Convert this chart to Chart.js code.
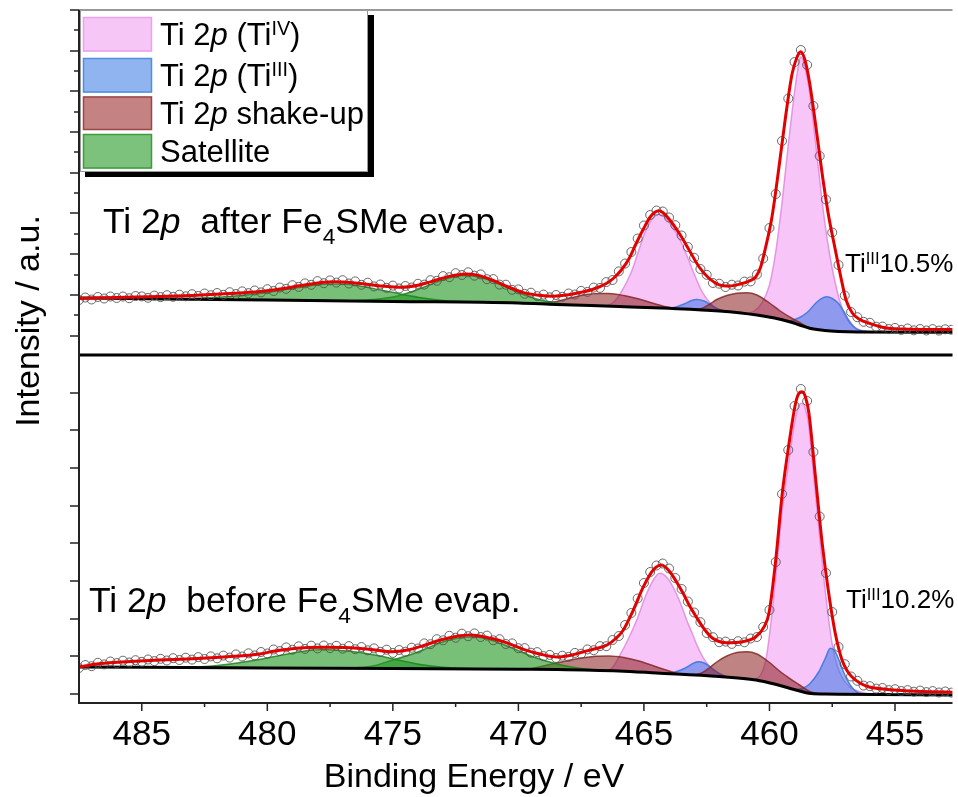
<!DOCTYPE html>
<html>
<head>
<meta charset="utf-8">
<title>Ti 2p XPS</title>
<script src="https://cdn.jsdelivr.net/npm/chart.js@4.4.1/dist/chart.umd.min.js"></script>
<style>
  html, body { margin: 0; padding: 0; background: #fff; overflow: hidden; }
  #wrap { position: relative; width: 958px; height: 797px; }
</style>
</head>
<body>
<div id="wrap"><canvas id="xps" width="958" height="797"></canvas></div>
<script>
// ---- axis ticks ----
const xMajorTicks = [485, 480, 475, 470, 465, 460, 455];
const xMinorTicks = [482.5, 477.5, 472.5, 467.5, 462.5, 457.5];
const yMajorAfter = [19, 60, 101, 142, 182, 223, 264, 304, 345];
const yMinorAfter = [40, 80, 121, 162, 203, 243, 284, 325];
const yMajorBefore = [9, 47, 84, 122, 160, 197, 235, 273, 310];

// ---- measured spectra (binding energy grid: 487.5 eV down, 0.25 eV step) ----
const rawStart = 487.5, rawStep = 0.25;

const rawAfter = [
  55, 57.5, 55.5, 58, 56.5, 58.5, 57, 58.5, 56.8, 59,
  58.6, 57.2, 59.4, 57.9, 59.8, 58.2, 60.3, 58.7, 60.8, 59.1,
  61.5, 59.8, 62, 60.2, 62.8, 61, 63.6, 61.9, 64.5, 62.6,
  65.8, 64, 67.5, 66.2, 69.8, 68.1, 71.6, 70.2, 73.9, 71.8,
  74.6, 72.4, 74.8, 71.5, 73.6, 70.2, 72.3, 68.6, 70.5, 67.2,
  69.4, 66.5, 69, 67.5, 71.2, 70.4, 74.8, 74.2, 78.9, 77.8,
  81.8, 80, 82.7, 79.3, 80.6, 75.8, 75.9, 70.4, 70.3, 65.2,
  65.6, 61.2, 62.3, 58.9, 60.4, 57.7, 60, 58.2, 61.5, 60.5,
  64.1, 63.1, 67.4, 67.1, 72.9, 75, 83.6, 91.5, 103, 116.5,
  129.5, 140, 144.5, 143.5, 137.5, 129.8, 119.5, 108, 97.2, 86,
  80.2, 72, 71.3, 68, 70.3, 69.5, 73.4, 73.6, 80.5, 96.5,
  127, 161, 214, 256.5, 293, 305, 290, 249, 199, 155.5,
  122.5, 90, 59.5, 43, 37.8, 33.2, 32.2, 28.3, 28.4, 26,
  27.1, 25.1, 26.5, 24.7, 26, 24.5, 25.9, 24.4, 25.7, 25.2
];

const rawBefore = [
  35, 38, 36.8, 40.2, 38.6, 41.5, 39.9, 42.3, 40.5, 42.8,
  41.2, 43.5, 41.9, 44.2, 42.5, 44.8, 43, 45.3, 43.4, 45.9,
  44, 46.6, 44.7, 47.4, 45.4, 48.6, 46.5, 49.7, 47.6, 51,
  49.5, 53.5, 51.9, 55.6, 53.3, 56.7, 54.1, 57.3, 54.6, 57.5,
  54.8, 57.2, 54.3, 56.9, 53.8, 56, 52.7, 54.6, 51.2, 53.3,
  50.1, 53, 51.3, 55.3, 54.5, 59.6, 58.8, 63.8, 62.7, 67.2,
  65.3, 69.3, 66.8, 69.6, 66, 67.4, 62.7, 63.8, 59, 59.6,
  54.8, 54.9, 50.3, 50.9, 46.9, 48.1, 45, 47.3, 46.1, 50.1,
  49.3, 53.6, 52.8, 56.9, 56.8, 63, 67, 78, 90, 104.5,
  120, 131, 137.5, 139.5, 134.5, 125, 114, 101.5, 90.5, 80.8,
  70, 65.8, 60.8, 61.4, 59.1, 61.8, 60.7, 64.5, 66, 76,
  93, 141, 209, 253, 297, 314, 302, 251, 186.5, 130,
  91, 56, 38.8, 26.5, 22.2, 17.4, 16.8, 14.4, 15, 12.9,
  13.8, 12, 12.9, 11.3, 12.4, 10.9, 11.9, 10.5, 11.5, 10.4
];

// ---- fitted envelopes [eV, intensity] ----
const fitAfter = [
  [487.5, 56.5], [486, 57.6], [484.3, 58.4], [483, 59.5], [481.5, 61.4], [480.3, 63.4],
  [479.5, 66], [478.4, 70.5], [477.4, 73.2], [476.4, 71.8], [475.4, 68.9], [474.65, 67.7],
  [474, 69.7], [473.5, 73.1], [472.8, 78.4], [472.1, 81], [471.6, 79.6], [471.1, 75.5],
  [470.4, 68], [469.8, 62.4], [469.2, 59.8], [468.6, 58.8], [468, 60.2], [467.5, 62.7],
  [467, 66], [466.5, 71.5], [466.2, 77], [465.9, 85], [465.6, 96], [465.3, 112],
  [465, 127], [464.75, 138], [464.55, 143], [464.4, 144.3], [464.25, 142.5], [464, 136],
  [463.6, 122], [463.2, 105], [462.8, 88], [462.4, 76.5], [462, 70.2], [461.6, 69],
  [461.2, 70.7], [460.8, 74], [460.55, 78], [460.35, 88], [460.15, 108], [459.9, 138],
  [459.62, 188], [459.36, 238], [459.1, 281], [458.9, 298], [458.76, 303.3], [458.6, 296],
  [458.4, 272], [458.15, 228], [457.9, 181], [457.65, 140], [457.4, 108], [457.15, 77],
  [456.95, 55], [456.7, 42], [456.4, 35.5], [456, 31.5], [455.5, 27.7], [454.8, 25.9],
  [453.8, 25.6], [452.7, 25.5]
];

const fitBefore = [
  [487.5, 36], [487.2, 37.2], [486.9, 38.7], [486.3, 40.3], [485.6, 41.3], [484.3, 43],
  [483, 44.3], [481.6, 46.3], [480.3, 49], [479.7, 52], [479, 54.3], [478.3, 55.4],
  [477.7, 55.7], [477, 55.5], [476.4, 54.7], [475.7, 53], [475.05, 51.3], [474.4, 53],
  [473.7, 58], [473.1, 63], [472.5, 66.5], [471.9, 68], [471.1, 64.7], [470.4, 59.7],
  [469.8, 53.7], [469.1, 48.7], [468.45, 46], [467.9, 47.8], [467.4, 51.3], [466.9, 54.5],
  [466.47, 58], [466.1, 65], [465.82, 73], [465.42, 93], [465.02, 116.3], [464.63, 133],
  [464.3, 138], [463.97, 131.3], [463.7, 121], [463.44, 109.7], [463.2, 98], [462.92, 86.3],
  [462.6, 74], [462.26, 64.7], [461.73, 60.3], [461.07, 61.3], [460.54, 66.3], [460.21, 76.3],
  [460.02, 89.7], [459.75, 143], [459.49, 209.7], [459.22, 259.7], [458.96, 299.7], [458.83, 309.7],
  [458.7, 311.3], [458.57, 306.3], [458.43, 290], [458.17, 226.3], [457.9, 159.7], [457.64, 109.7],
  [457.38, 69.7], [457.11, 43], [456.9, 32], [456.72, 26.3], [456.4, 20], [456.06, 16.3],
  [455.3, 13.5], [454.6, 12.3], [453.6, 11.3], [452.7, 10.7]
];

// ---- Shirley backgrounds ----
const bgAfter = [
  [487.5, 57], [484, 56], [480, 55], [475, 53.5], [470, 52], [468.5, 50.5], [466, 48.5],
  [464, 46.7], [462, 44], [460.5, 40], [459.8, 37], [459.2, 33.3], [458.8, 30], [458.4, 26.7],
  [457.8, 24.5], [457.25, 23.5], [456.5, 23], [452.7, 22.8]
];
const bgBefore = [
  [487.5, 36], [480, 35], [475, 34.5], [470, 33.8], [468.45, 33.5], [466, 32], [464.5, 30],
  [462, 26.5], [460.54, 23], [459.8, 19], [459.2, 14.7], [458.8, 12], [458.43, 9.7],
  [457.8, 9], [457.25, 8.7], [452.7, 8]
];

// ---- fitted components (on top of background) ----
const ti4aAfter = [
  [460.9, 41.2], [460.6, 44], [460.3, 52], [460, 70], [459.75, 103], [459.5, 152], [459.25, 210],
  [459, 263], [458.85, 289], [458.76, 298], [458.6, 289], [458.4, 262], [458.2, 220], [458, 175],
  [457.8, 133], [457.6, 100], [457.4, 74], [457.2, 54], [457, 40], [456.8, 32], [456.5, 26],
  [456.2, 24], [455.9, 23]
];
const ti4bAfter = [
  [466.5, 48.9], [466.2, 53], [465.9, 63], [465.5, 83], [465.2, 105], [464.9, 126], [464.6, 138],
  [464.4, 140.5], [464.2, 138.5], [463.9, 129], [463.6, 117], [463.3, 100], [463, 81], [462.7, 64],
  [462.4, 53], [462.1, 46], [461.8, 43.5]
];
const ti3aAfter = [
  [459.2, 33.7], [458.84, 37], [458.5, 42.5], [458.17, 51.5], [457.95, 56.2], [457.71, 58.3],
  [457.5, 56.5], [457.25, 51.5], [457.05, 44], [456.85, 35], [456.65, 28.5], [456.46, 25],
  [456.2, 23.4], [455.9, 23]
];
const ti3bAfter = [
  [464.2, 46.8], [463.8, 47.5], [463.4, 51], [463.1, 54.5], [462.9, 55.5], [462.6, 54],
  [462.3, 49.5], [462, 45.5], [461.6, 43.2]
];
const shake1After = [
  [463, 45.4], [462.7, 46.5], [462.4, 50.5], [462.1, 55.5], [461.7, 59.5], [461.3, 61.7],
  [460.9, 62.2], [460.5, 60], [460, 52], [459.6, 44.5], [459.2, 38.2], [458.8, 32.5],
  [458.4, 27.2], [458.1, 25.6]
];
const shake2After = [
  [469.2, 51.2], [468.6, 53], [468, 56.5], [467.4, 60], [466.8, 61.5], [466.4, 61.5],
  [465.8, 59.5], [465.2, 56], [464.6, 51.5], [464, 47.5], [463.6, 46.2]
];
const sat1After = [
  [483.5, 56], [482.5, 57], [481.5, 58.5], [480.5, 61], [479.5, 64.5], [478.5, 68.5],
  [477.6, 71], [477, 71], [476.2, 68.5], [475.4, 64.5], [474.6, 60.5], [473.8, 57],
  [473, 54.5], [472, 53], [471, 52.3]
];
const sat2After = [
  [476.6, 54], [475.8, 55.5], [475, 58], [474.4, 62], [473.8, 67.5], [473.2, 73.5],
  [472.6, 78], [472.1, 79.5], [471.6, 78], [471, 73.5], [470.4, 67], [469.8, 60.5],
  [469.2, 55.5], [468.5, 52], [467.8, 49.9]
];

const ti4aBefore = [
  [460.6, 23.2], [460.35, 28], [460.15, 42], [459.95, 78], [459.75, 126], [459.49, 193],
  [459.22, 243], [459, 280], [458.85, 296], [458.72, 299.7], [458.58, 295], [458.45, 280],
  [458.3, 243], [458.04, 176], [457.77, 110], [457.51, 60], [457.3, 37], [457.11, 26],
  [456.85, 17], [456.59, 13], [456.2, 9.7], [455.8, 8.5]
];
const ti4bBefore = [
  [466.4, 32.1], [466.2, 37], [466, 46], [465.7, 60], [465.3, 82], [464.9, 109], [464.6, 124],
  [464.37, 129.7], [464.1, 126], [463.84, 116], [463.55, 100], [463.3, 83], [463.1, 71],
  [462.9, 58.5], [462.7, 48], [462.5, 40], [462.2, 32], [461.9, 28], [461.6, 25.6]
];
const ti3aBefore = [
  [459, 13.4], [458.7, 14.5], [458.4, 19], [458.04, 31], [457.77, 45], [457.58, 54.7],
  [457.4, 52], [457.25, 44], [457, 28], [456.8, 18.5], [456.6, 12.5], [456.4, 9.5], [456.1, 8.6]
];
const ti3bBefore = [
  [464.1, 29.5], [463.7, 31.5], [463.35, 35], [463.05, 39.5], [462.85, 41.3], [462.6, 40],
  [462.3, 35], [462, 29.5], [461.7, 25.9]
];
const shake1Before = [
  [463, 27.9], [462.7, 30], [462.4, 35], [462.1, 41], [461.7, 47], [461.3, 50.5],
  [460.9, 51.3], [460.5, 49], [460, 40.5], [459.6, 32], [459.2, 24.7], [458.8, 18],
  [458.4, 11.5], [458.1, 9.3]
];
const shake2Before = [
  [469.6, 33.7], [469, 37], [468.3, 41], [467.6, 44.5], [466.9, 46.8], [466.4, 47],
  [465.8, 45.5], [465.2, 42], [464.6, 37], [464, 32], [463.6, 28.8]
];
const sat1Before = [
  [483.2, 35.4], [482.2, 37], [481.2, 40], [480.2, 44], [479.3, 48.5], [478.5, 52],
  [477.8, 53.5], [477.1, 52.5], [476.3, 50.5], [475.5, 47], [474.7, 42.5], [473.9, 38.5],
  [473, 35.8], [472, 34.5], [471, 34]
];
const sat2Before = [
  [476.6, 34.8], [475.8, 37], [475, 43], [474.4, 47.5], [473.8, 53], [473.2, 59.5],
  [472.5, 64.5], [471.9, 66], [471.3, 64.5], [470.7, 59.5], [470.1, 53.5], [469.5, 47],
  [468.9, 42], [468.2, 37.5], [467.5, 34.5], [466.8, 32.6]
];

// ---- styling ----
const FONT = '"Liberation Sans", Arial, Helvetica, sans-serif';
const kinds = {
  ti4:   { fill: 'rgba(240, 140, 240, 0.5)', line: 'rgba(226, 140, 226, 0.9)', order: 9 },
  ti3:   { fill: 'rgba(40, 110, 230, 0.5)',  line: 'rgba(60, 120, 225, 0.9)',  order: 8 },
  shake: { fill: 'rgba(140, 30, 30, 0.55)',  line: 'rgba(130, 40, 40, 0.85)',  order: 7 },
  sat:   { fill: 'rgba(30, 150, 30, 0.6)',   line: 'rgba(30, 130, 30, 0.85)',  order: 6 }
};

const toPoints = pairs => pairs.map(([x, y]) => ({ x, y }));
const rawPoints = vals => vals.map((y, i) => ({ x: rawStart - i * rawStep, y }));

// one panel = background, fit, raw points and the filled components
function panel(axis, bg, fit, raw, parts, datasets) {
  const bgIndex = datasets.length;
  datasets.push({
    data: toPoints(bg), yAxisID: axis, borderColor: '#000', borderWidth: 3,
    pointRadius: 0, cubicInterpolationMode: 'monotone', fill: false, order: 5
  });
  datasets.push({
    data: toPoints(fit), yAxisID: axis, borderColor: '#e30000', borderWidth: 3,
    pointRadius: 0, cubicInterpolationMode: 'monotone', fill: false, order: 3
  });
  datasets.push({
    data: rawPoints(raw), yAxisID: axis, showLine: false,
    pointRadius: 4.5, pointBorderWidth: 1, pointStyle: 'circle',
    pointBorderColor: 'rgba(80, 80, 80, 0.85)', pointBackgroundColor: 'rgba(255, 255, 255, 0)',
    order: 4
  });
  parts.forEach(([pairs, kind]) => {
    const k = kinds[kind];
    datasets.push({
      data: toPoints(pairs), yAxisID: axis, borderColor: k.line, borderWidth: 1.5,
      backgroundColor: k.fill, pointRadius: 0, cubicInterpolationMode: 'monotone',
      fill: { target: bgIndex }, order: k.order
    });
  });
}

const datasets = [];
panel('yAfter', bgAfter, fitAfter, rawAfter, [
  [ti4aAfter, 'ti4'], [ti4bAfter, 'ti4'], [ti3aAfter, 'ti3'], [ti3bAfter, 'ti3'],
  [shake1After, 'shake'], [shake2After, 'shake'], [sat1After, 'sat'], [sat2After, 'sat']
], datasets);
panel('yBefore', bgBefore, fitBefore, rawBefore, [
  [ti4aBefore, 'ti4'], [ti4bBefore, 'ti4'], [ti3aBefore, 'ti3'], [ti3bBefore, 'ti3'],
  [shake1Before, 'shake'], [shake2Before, 'shake'], [sat1Before, 'sat'], [sat2Before, 'sat']
], datasets);

// text with italic / superscript / subscript runs
function drawRuns(ctx, runs, x, y, size) {
  let cx = x;
  for (const [t, s] of runs) {
    const small = s === 'sup' || s === 'sub';
    const fs = small ? size * 0.64 : size;
    ctx.font = (s === 'i' ? 'italic ' : '') + fs + 'px ' + FONT;
    const dy = s === 'sup' ? -size * 0.3 : s === 'sub' ? size * 0.3 : 0;
    ctx.fillText(t, cx, y + dy);
    cx += ctx.measureText(t).width;
  }
}

const legendItems = [
  { fill: '#f6c6f6', edge: '#eaa2ea', top: 17, bottom: 51.5, runs: [['Ti 2', ''], ['p', 'i'], [' (Ti', ''], ['IV', 'sup'], [')', '']] },
  { fill: '#8fb4f0', edge: '#4f8ee0', top: 58, bottom: 92.5, runs: [['Ti 2', ''], ['p', 'i'], [' (Ti', ''], ['III', 'sup'], [')', '']] },
  { fill: '#c48282', edge: '#9c4646', top: 96.5, bottom: 130, runs: [['Ti 2', ''], ['p', 'i'], [' shake-up', '']] },
  { fill: '#7cc27c', edge: '#3c9c3c', top: 134, bottom: 168.5, runs: [['Satellite', '']] }
];

const plotFrame = {
  id: 'plotFrame',
  afterDatasetsDraw(chart) {
    const { ctx, chartArea: a, scales } = chart;
    const yA = scales.yAfter, yB = scales.yBefore, x = scales.x;
    const seg = (x1, y1, x2, y2) => { ctx.beginPath(); ctx.moveTo(x1, y1); ctx.lineTo(x2, y2); ctx.stroke(); };
    ctx.save();
    ctx.strokeStyle = '#777'; ctx.lineWidth = 1.5;
    seg(a.left, a.top, a.right, a.top);
    ctx.strokeStyle = '#000'; ctx.lineWidth = 3;
    seg(a.left, yA.bottom, a.right, yA.bottom);
    ctx.strokeStyle = '#222'; ctx.lineWidth = 2;
    seg(a.left, a.top, a.left, a.bottom + 1);
    seg(a.left, a.bottom, a.right, a.bottom);
    ctx.lineWidth = 1.5;
    yMajorAfter.forEach(v => { const p = yA.getPixelForValue(v); seg(a.left - 9, p, a.left, p); });
    yMinorAfter.forEach(v => { const p = yA.getPixelForValue(v); seg(a.left - 5, p, a.left, p); });
    yMajorBefore.forEach(v => { const p = yB.getPixelForValue(v); seg(a.left - 9, p, a.left, p); });
    xMajorTicks.forEach(v => { const p = x.getPixelForValue(v); seg(p, a.bottom, p, a.bottom + 8); });
    xMinorTicks.forEach(v => { const p = x.getPixelForValue(v); seg(p, a.bottom, p, a.bottom + 4); });
    ctx.restore();
  },
  afterDraw(chart) {
    const { ctx, chartArea: a, scales } = chart;
    const x = scales.x;
    ctx.save();
    ctx.fillStyle = '#000';
    ctx.textBaseline = 'alphabetic';

    // x tick labels and axis titles
    ctx.textAlign = 'center';
    ctx.font = '35px ' + FONT;
    xMajorTicks.forEach(v => ctx.fillText(String(v), x.getPixelForValue(v), a.bottom + 42));
    ctx.font = '34px ' + FONT;
    ctx.fillText('Binding Energy / eV', 474, 787);
    ctx.save();
    ctx.translate(39, 321);
    ctx.rotate(-Math.PI / 2);
    ctx.fillText('Intensity / a.u.', 0, 0);
    ctx.restore();

    // panel labels
    ctx.textAlign = 'left';
    drawRuns(ctx, [['Ti 2', ''], ['p', 'i'], ['  after Fe', ''], ['4', 'sub'], ['SMe evap.', '']], 103, 233, 35.5);
    drawRuns(ctx, [['Ti 2', ''], ['p', 'i'], ['  before Fe', ''], ['4', 'sub'], ['SMe evap.', '']], 89, 612, 35.5);
    drawRuns(ctx, [['Ti', ''], ['III', 'sup'], ['10.5%', '']], 845, 272, 26);
    drawRuns(ctx, [['Ti', ''], ['III', 'sup'], ['10.2%', '']], 846, 608, 26);

    // legend box with drop shadow
    ctx.fillStyle = '#000';
    ctx.fillRect(368, 15, 6, 162);
    ctx.fillRect(85, 172, 289, 5);
    ctx.fillStyle = '#fff';
    ctx.fillRect(80, 10, 288, 162);
    ctx.strokeStyle = '#999'; ctx.lineWidth = 1;
    ctx.strokeRect(80.5, 10.5, 287, 161);
    legendItems.forEach(item => {
      ctx.fillStyle = item.fill;
      ctx.fillRect(83, item.top, 69, item.bottom - item.top);
      ctx.strokeStyle = item.edge; ctx.lineWidth = 1.5;
      ctx.strokeRect(83.5, item.top + 0.5, 68, item.bottom - item.top - 1);
      ctx.fillStyle = '#000';
      drawRuns(ctx, item.runs, 160, (item.top + item.bottom) / 2 + 10.5, 31);
    });
    ctx.restore();
  }
};

Chart.defaults.font.family = FONT;

new Chart(document.getElementById('xps'), {
  type: 'line',
  data: { datasets },
  options: {
    responsive: false,
    animation: false,
    devicePixelRatio: 1,
    events: [],
    layout: { padding: { top: 10, right: 0, left: 0, bottom: 0 } },
    plugins: { legend: { display: false }, tooltip: { enabled: false } },
    scales: {
      x: {
        type: 'linear', reverse: true, min: 452.71, max: 487.5, position: 'bottom',
        grid: { display: false }, border: { display: false },
        ticks: { display: false },
        afterFit: s => { s.height = 94; }
      },
      yAfter: {
        type: 'linear', position: 'left', stack: 'panels', stackWeight: 345, weight: 2,
        min: 0, max: 345,
        grid: { display: false }, border: { display: false }, ticks: { display: false },
        afterFit: s => { s.width = 79; }
      },
      yBefore: {
        type: 'linear', position: 'left', stack: 'panels', stackWeight: 348, weight: 1,
        min: 0, max: 348,
        grid: { display: false }, border: { display: false }, ticks: { display: false },
        afterFit: s => { s.width = 79; }
      }
    }
  },
  plugins: [plotFrame]
});
</script>
</body>
</html>
